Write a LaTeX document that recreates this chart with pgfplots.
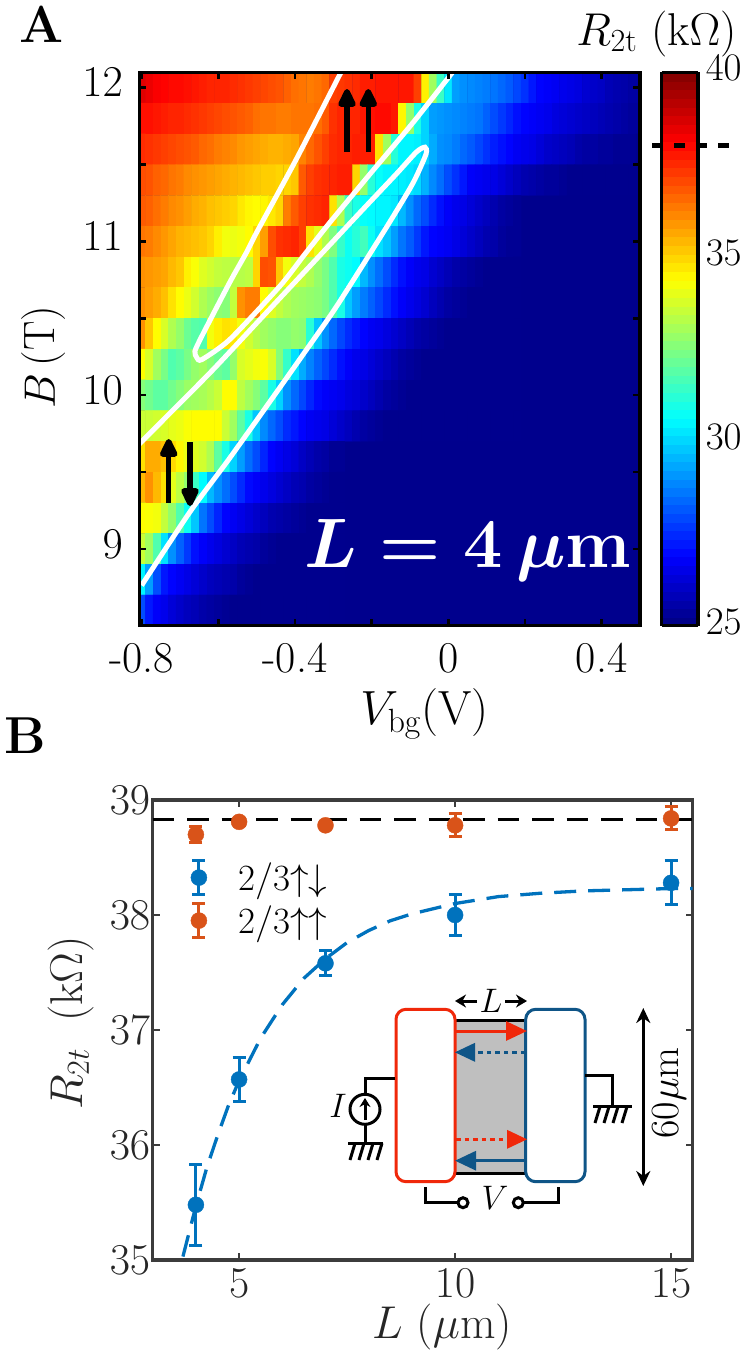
\RequirePackage{fix-cm}
\documentclass[border=0pt]{standalone}
\usepackage{amsmath}
\usepackage{pgfplots}
\usepackage{pgfplotstable}
\pgfplotsset{compat=1.18}
\usetikzlibrary{arrows.meta}

\newcommand{\fstick}{\fontsize{44}{48}\selectfont}
\newcommand{\fsins}{\fontsize{34}{38}\selectfont}
\definecolor{cblue}{RGB}{0,114,189}
\definecolor{corange}{RGB}{217,83,25}
\definecolor{tailblue}{RGB}{0,0,141}
\definecolor{axgray}{RGB}{60,60,60}
\definecolor{txgray}{RGB}{38,38,38}
\definecolor{insred}{RGB}{240,40,10}
\definecolor{insblue}{RGB}{15,85,135}

% R_2t in kOhm, Vbg step 0.02 from -0.8, rows from B=12.0 down in 0.2 steps
% rows 12.0 ... 11.4, 66 columns
\pgfplotstableread[row sep=\\]{R\\
38.6\\38.4\\38.2\\38.1\\38.0\\38.0\\37.9\\37.8\\37.7\\37.6\\37.6\\37.6\\37.5\\37.4\\37.3\\37.2\\37.1\\37.0\\36.9\\36.7\\36.5\\36.4\\36.3\\36.4\\36.6\\37.2\\37.3\\37.4\\37.5\\37.7\\37.7\\37.8\\37.8\\37.8\\37.8\\37.8\\37.2\\34.6\\33.0\\31.5\\30.3\\29.2\\29.0\\28.9\\28.8\\28.7\\28.6\\28.4\\28.2\\27.9\\27.6\\27.2\\26.9\\26.8\\26.7\\26.6\\26.5\\26.4\\26.2\\26.1\\26.0\\25.8\\25.7\\25.6\\25.5\\25.5\\
37.9\\37.9\\37.8\\37.7\\37.6\\37.6\\37.5\\37.4\\37.3\\37.2\\37.1\\37.0\\36.9\\36.8\\36.7\\36.5\\36.4\\36.4\\36.3\\36.3\\36.4\\36.4\\36.4\\36.5\\36.8\\37.4\\37.6\\37.6\\37.6\\37.8\\37.9\\38.0\\38.0\\37.8\\34.5\\32.8\\31.0\\30.0\\29.2\\29.1\\29.0\\28.9\\28.8\\28.7\\28.6\\28.3\\28.0\\27.7\\27.4\\27.1\\26.9\\26.8\\26.7\\26.6\\26.4\\26.3\\26.2\\26.1\\26.0\\25.9\\25.8\\25.7\\25.6\\25.5\\25.4\\25.4\\
37.5\\37.4\\37.3\\37.2\\37.1\\37.0\\36.9\\36.8\\36.6\\36.5\\36.3\\36.2\\36.1\\35.9\\35.8\\35.7\\35.6\\35.5\\35.5\\35.6\\35.7\\36.2\\36.6\\36.9\\37.2\\37.5\\37.6\\37.6\\37.7\\37.7\\37.7\\34.8\\33.0\\31.2\\30.5\\30.5\\30.4\\30.0\\29.4\\29.0\\28.9\\28.7\\28.4\\28.2\\27.9\\27.6\\27.3\\27.1\\26.9\\26.7\\26.6\\26.5\\26.3\\26.1\\26.0\\25.9\\25.8\\25.6\\25.5\\25.5\\25.4\\25.4\\25.3\\25.3\\25.3\\25.2\\
37.0\\36.9\\36.7\\36.6\\36.4\\36.3\\36.1\\36.0\\35.9\\35.8\\35.7\\35.6\\35.5\\35.4\\35.3\\35.2\\35.1\\35.1\\35.0\\35.0\\35.2\\36.8\\37.2\\37.4\\37.5\\37.6\\37.7\\37.7\\35.0\\32.8\\31.2\\30.7\\30.5\\30.5\\30.4\\30.3\\30.1\\29.5\\28.9\\28.5\\28.0\\27.6\\27.2\\26.8\\26.7\\26.6\\26.5\\26.3\\26.1\\25.9\\25.7\\25.6\\25.5\\25.4\\25.4\\25.3\\25.2\\25.2\\25.2\\25.2\\25.2\\25.2\\25.2\\25.2\\25.2\\25.2\\
}\heata
% rows 11.2 ... 9.8, 50 columns
\pgfplotstableread[row sep=\\]{R\\
36.8\\36.7\\36.5\\36.3\\36.1\\36.0\\35.8\\35.6\\35.5\\35.3\\35.2\\35.1\\35.0\\34.7\\34.5\\34.4\\34.5\\34.7\\35.0\\36.3\\36.8\\37.2\\37.4\\37.5\\37.6\\34.8\\33.2\\31.5\\31.0\\30.7\\30.6\\30.5\\30.5\\30.3\\29.6\\29.0\\28.4\\28.0\\27.5\\27.1\\26.8\\26.6\\26.5\\26.3\\26.1\\25.9\\25.7\\25.5\\25.4\\25.3\\
36.4\\36.3\\36.1\\35.9\\35.7\\35.5\\35.4\\35.3\\35.2\\35.0\\34.6\\34.2\\34.1\\34.2\\34.4\\35.0\\35.8\\37.0\\37.4\\37.5\\37.6\\37.2\\34.8\\34.0\\33.2\\32.5\\31.4\\30.8\\31.2\\31.6\\30.8\\30.2\\29.8\\29.2\\28.6\\28.2\\27.7\\27.2\\26.9\\26.8\\26.7\\26.5\\26.3\\26.1\\25.9\\25.7\\25.6\\25.4\\25.3\\25.3\\
36.0\\35.9\\35.8\\35.7\\35.4\\35.2\\34.6\\34.3\\33.9\\33.7\\33.5\\33.4\\33.3\\33.3\\33.4\\35.0\\37.0\\36.9\\35.2\\34.2\\33.8\\33.5\\33.2\\32.8\\32.4\\31.8\\31.0\\30.8\\30.6\\29.6\\29.0\\28.5\\28.0\\27.5\\27.1\\26.8\\26.6\\26.5\\26.2\\26.0\\25.8\\25.6\\25.5\\25.4\\25.3\\25.2\\25.2\\25.2\\25.2\\25.2\\
36.0\\35.8\\35.6\\35.3\\34.8\\34.4\\34.1\\33.7\\33.2\\32.9\\32.7\\32.6\\33.5\\36.0\\36.3\\36.3\\34.4\\33.9\\33.5\\33.2\\33.0\\32.9\\32.8\\32.7\\32.4\\31.8\\31.0\\29.8\\29.2\\28.7\\28.3\\27.9\\27.5\\27.1\\26.8\\26.6\\26.4\\26.2\\25.9\\25.7\\25.5\\25.4\\25.3\\25.2\\25.2\\25.2\\25.2\\25.2\\25.2\\25.2\\
36.0\\35.2\\34.4\\33.8\\33.2\\32.8\\32.2\\31.9\\31.8\\34.2\\34.6\\34.8\\34.7\\34.2\\33.7\\33.3\\33.0\\32.8\\32.6\\32.6\\32.8\\32.7\\31.2\\29.8\\29.0\\28.4\\27.9\\27.5\\27.2\\26.9\\26.7\\26.6\\26.4\\26.2\\26.0\\25.8\\25.6\\25.5\\25.4\\25.3\\25.2\\25.2\\25.2\\25.2\\25.2\\25.2\\25.2\\25.2\\25.2\\25.2\\
34.4\\33.8\\33.0\\32.4\\31.8\\32.0\\32.4\\32.8\\33.0\\32.6\\32.2\\32.0\\32.8\\33.8\\34.0\\34.2\\34.3\\33.8\\32.6\\31.4\\30.2\\29.4\\28.8\\28.3\\27.9\\27.5\\27.1\\26.8\\26.6\\26.5\\26.3\\26.1\\25.9\\25.7\\25.5\\25.4\\25.3\\25.2\\25.2\\25.2\\25.2\\25.2\\25.2\\25.2\\25.2\\25.2\\25.2\\25.2\\25.2\\25.2\\
32.6\\32.3\\32.0\\32.0\\32.3\\32.6\\32.9\\33.0\\33.1\\33.3\\33.6\\34.4\\34.4\\33.4\\33.0\\32.6\\32.0\\31.0\\30.0\\29.0\\28.4\\27.9\\27.4\\27.0\\26.8\\26.7\\26.6\\26.4\\26.3\\26.1\\25.9\\25.7\\25.5\\25.4\\25.3\\25.2\\25.2\\25.2\\25.2\\25.2\\25.2\\25.2\\25.2\\25.2\\25.2\\25.2\\25.2\\25.2\\25.2\\25.2\\
33.6\\33.6\\33.7\\33.8\\34.0\\34.1\\34.3\\34.4\\34.4\\34.4\\34.4\\33.6\\33.0\\32.0\\31.0\\29.8\\28.9\\28.4\\28.0\\27.5\\27.2\\26.9\\26.7\\26.6\\26.5\\26.3\\26.1\\25.9\\25.7\\25.5\\25.4\\25.3\\25.2\\25.2\\25.2\\25.2\\25.2\\25.2\\25.2\\25.2\\25.2\\25.2\\25.2\\25.2\\25.2\\25.2\\25.2\\25.2\\25.2\\25.2\\
}\heatb
% rows 9.6 ... 8.6, 27 columns
\pgfplotstableread[row sep=\\]{R\\
34.8\\35.6\\35.6\\35.3\\34.9\\34.5\\34.1\\33.9\\33.7\\33.2\\32.0\\31.0\\30.0\\29.2\\28.5\\28.0\\27.4\\26.9\\26.7\\26.5\\26.3\\26.0\\25.8\\25.6\\25.5\\25.3\\25.3\\
35.4\\36.0\\35.4\\34.8\\34.0\\33.4\\32.8\\31.5\\30.6\\29.6\\29.0\\28.5\\28.0\\27.5\\27.0\\26.8\\26.6\\26.4\\26.2\\26.0\\25.8\\25.7\\25.5\\25.4\\25.3\\25.2\\25.2\\
34.4\\34.3\\34.2\\33.5\\32.8\\31.8\\30.8\\29.8\\28.6\\28.0\\27.4\\26.9\\26.7\\26.5\\26.3\\26.1\\25.9\\25.7\\25.6\\25.5\\25.4\\25.3\\25.2\\25.2\\25.2\\25.2\\25.2\\
33.6\\33.0\\31.8\\30.2\\29.0\\28.3\\27.7\\27.1\\26.8\\26.6\\26.4\\26.2\\26.0\\25.8\\25.7\\25.6\\25.4\\25.3\\25.2\\25.2\\25.2\\25.2\\25.2\\25.2\\25.2\\25.2\\25.2\\
30.5\\29.2\\28.0\\27.2\\26.9\\26.7\\26.5\\26.3\\26.1\\25.9\\25.8\\25.7\\25.6\\25.4\\25.3\\25.2\\25.2\\25.2\\25.2\\25.2\\25.2\\25.2\\25.2\\25.2\\25.2\\25.2\\25.2\\
28.0\\27.2\\26.8\\26.6\\26.3\\26.1\\25.9\\25.8\\25.6\\25.5\\25.4\\25.3\\25.2\\25.2\\25.2\\25.2\\25.2\\25.2\\25.2\\25.2\\25.2\\25.2\\25.2\\25.2\\25.2\\25.2\\25.2\\
}\heatc

\begin{document}
\begin{tikzpicture}
\path[use as bounding box] (0pt,0pt) rectangle (747pt,-1353pt);

% panel A
\begin{axis}[
  at={(139.3pt,-72.3pt)}, anchor=north west,
  scale only axis, width=500.7pt, height=553.4pt,
  xmin=-0.806, xmax=0.5, ymin=8.5, ymax=12.1,
  axis on top,
  axis background/.style={fill=tailblue},
  axis line style={line width=3.5pt,black},
  tick style={line width=2.5pt,black},
  major tick length=7pt, minor tick length=7pt,
  xtick={-0.8,-0.4,0,0.4}, xticklabels={-0.8,-0.4,0,0.4},
  ytick={9,10,11,12},
  minor x tick num=1, minor y tick num=1,
  tick label style={font=\fstick},
  xticklabel style={anchor=base,yshift=-46.3pt},
  yticklabel style={xshift=-13pt,yshift=5pt},
  xlabel={$V_{\mathrm{bg}}$(V)}, ylabel={$B\,$(T)},
  xlabel style={font=\fontsize{48}{52}\selectfont,at={(axis description cs:0.5696,-0.1794)},anchor=base},
  ylabel style={font=\fontsize{44}{48}\selectfont,at={(axis description cs:-0.1684,0.4855)},anchor=base},
  colormap/jet,
  point meta min=25, point meta max=40,
  colorbar sampled,
  colorbar/width=36.5pt,
  colorbar shift/.style={xshift=20pt},
  colorbar style={
    samples=65,
    ytick={25,30,35,40},
    major tick length=0pt,
    axis line style={line width=3.5pt,black},
    yticklabel style={font=\fontsize{39}{42}\selectfont,xshift=4pt,yshift=4pt},
  },
]
\addplot[matrix plot*, mesh/cols=66, point meta=explicit] table[x index=0, y index=0, meta=R,
  x expr={-0.8+0.02*(\coordindex-66*floor((\coordindex+0.5)/66))},
  y expr={12-0.2*floor((\coordindex+0.5)/66)}] {\heata};
\addplot[matrix plot*, mesh/cols=50, point meta=explicit] table[x index=0, y index=0, meta=R,
  x expr={-0.8+0.02*(\coordindex-50*floor((\coordindex+0.5)/50))},
  y expr={11.2-0.2*floor((\coordindex+0.5)/50)}] {\heatb};
\addplot[matrix plot*, mesh/cols=27, point meta=explicit] table[x index=0, y index=0, meta=R,
  x expr={-0.8+0.02*(\coordindex-27*floor((\coordindex+0.5)/27))},
  y expr={9.6-0.2*floor((\coordindex+0.5)/27)}] {\heatc};
% phase boundaries
\addplot[white, line width=5pt, smooth, tension=0.4] coordinates {
  (0.011,12.10) (-0.091,11.776) (-0.204,11.439) (-0.309,11.123) (-0.378,10.905)
  (-0.439,10.710) (-0.570,10.362) (-0.643,10.231) (-0.656,10.244) (-0.661,10.285)
  (-0.643,10.383) (-0.570,10.734) (-0.526,10.93) (-0.5,11.058) (-0.396,11.537) (-0.28,12.10)
};
\addplot[white, line width=5pt, smooth, tension=0.4] coordinates {
  (-0.813,9.665) (-0.622,10.144) (-0.483,10.514) (-0.309,10.978) (-0.222,11.21)
  (-0.135,11.44) (-0.083,11.582) (-0.061,11.613) (-0.058,11.569) (-0.092,11.38)
  (-0.161,11.093) (-0.291,10.579) (-0.378,10.267) (-0.448,10.019) (-0.570,9.591)
  (-0.674,9.24) (-0.8,8.762)
};
\end{axis}

% panel B
\begin{axis}[
  at={(152.7pt,-800pt)}, anchor=north west,
  scale only axis, width=540pt, height=460pt,
  xmin=3, xmax=15.5, ymin=35, ymax=39,
  axis line style={line width=3.5pt,axgray},
  tick style={line width=2.5pt,axgray},
  major tick length=7pt,
  xtick={5,10,15}, ytick={35,36,37,38,39},
  tick label style={font=\fstick,text=txgray},
  xticklabel style={anchor=base,yshift=-37pt},
  yticklabel style={xshift=1pt},
  xlabel={$L$ ($\mu$m)}, ylabel={$R_{2t}$\hspace{13pt} (k$\Omega$)},
  label style={font=\fontsize{46}{50}\selectfont,text=txgray},
  xlabel style={at={(axis description cs:0.5357,-0.1696)},anchor=base},
  ylabel style={at={(axis description cs:-0.1309,0.515)},anchor=base},
  legend style={at={(axis description cs:0.07,0.872)},anchor=north west,
    draw=none,fill=none,font=\fontsize{37}{40}\selectfont,inner sep=0pt,row sep=6pt,
    column sep=29pt},
  legend cell align=left,
]
\addplot[forget plot, black, line width=3.3pt, dash pattern=on 21.5pt off 13pt]
  coordinates {(3,38.83) (15.5,38.83)};
\addplot[forget plot, cblue, line width=3.3pt, dash pattern=on 22pt off 12pt]
  coordinates {(3.7,35.03) (4,35.47) (4.25,35.8) (4.5,36.08) (4.75,36.34) (5,36.56)
  (5.5,36.93) (6,37.22) (6.5,37.45) (7,37.62) (7.5,37.76) (8,37.865) (8.5,37.95)
  (9,38.01) (10,38.1) (11,38.16) (12,38.19) (13,38.21) (14,38.22) (15,38.23) (15.5,38.23)};
\addplot[only marks, mark=*, mark size=8pt, cblue, mark options={fill=cblue,draw=cblue},
  legend image code/.code={
    \draw[line width=3pt,cblue] (0pt,-17pt)--(0pt,17pt) (-6.5pt,-17pt)--(6.5pt,-17pt) (-6.5pt,17pt)--(6.5pt,17pt);
    \fill[cblue] (0pt,0pt) circle (8pt);},
  error bars/.cd, y dir=both, y explicit,
  error bar style={line width=3pt,cblue},
  error mark options={rotate=90,mark size=6.5pt,line width=3pt,cblue}]
  coordinates {(4,35.48) +- (0,0.35) (5,36.57) +- (0,0.19) (7,37.58) +- (0,0.11)
  (10,38.0) +- (0,0.18) (15,38.28) +- (0,0.19)};
\addlegendentry{$2/3{\uparrow}{\downarrow}$}
\addplot[only marks, mark=*, mark size=8pt, corange, mark options={fill=corange,draw=corange},
  legend image code/.code={
    \draw[line width=3pt,corange] (0pt,-17pt)--(0pt,17pt) (-6.5pt,-17pt)--(6.5pt,-17pt) (-6.5pt,17pt)--(6.5pt,17pt);
    \fill[corange] (0pt,0pt) circle (8pt);},
  error bars/.cd, y dir=both, y explicit,
  error bar style={line width=3pt,corange},
  error mark options={rotate=90,mark size=6.5pt,line width=3pt,corange}]
  coordinates {(4,38.7) +- (0,0.07) (5,38.81) +- (0,0.03) (7,38.78) +- (0,0.03)
  (10,38.78) +- (0,0.1) (15,38.84) +- (0,0.1)};
\addlegendentry{$2/3{\uparrow}{\uparrow}$}
\end{axis}

% annotations, coordinates in reference pixels
\begin{scope}[x=1pt,y=-1pt]
\node[font=\fontsize{52}{56}\selectfont\bfseries,anchor=base] at (42,42) {A};
\node[font=\fontsize{52}{56}\selectfont\bfseries,anchor=base] at (25,753) {B};
\node[font=\fontsize{46}{50}\selectfont,anchor=base] at (656.5,45) {$R_{\mathrm{2t}}$ (k$\Omega$)};
\draw[black,line width=5pt,dash pattern=on 11pt off 11pt] (652,145)--(731,145);
% spin arrows
\draw[line width=5.5pt,-{Triangle[length=22pt,width=19pt,round]}] (347,152)--(347,89);
\draw[line width=5.5pt,-{Triangle[length=22pt,width=19pt,round]}] (368.3,152)--(368.3,89);
\draw[line width=5.5pt,-{Triangle[length=22pt,width=19pt,round]}] (168.7,503)--(168.7,439);
\draw[line width=5.5pt,-{Triangle[length=22pt,width=19pt,round]}] (190,442)--(190,506);
\node[white,font=\fontsize{70}{74}\selectfont,anchor=base] at (468,567.7) {{\boldmath$L = 4\,\mu\mathbf{m}$}};

% device inset
\fill[black!25] (456,1020) rectangle (527,1173);
\draw[black,line width=3pt] (456,1020)--(527,1020) (456,1173)--(527,1173);
\draw[insred,line width=3pt,fill=white,rounded corners=10pt] (396,1009.3) rectangle (455,1181.7);
\draw[insblue,line width=3pt,fill=white,rounded corners=10pt] (525.7,1009.3) rectangle (585,1181.7);
\draw[insred,line width=3pt,-{Triangle[length=21pt,width=19pt]}] (456,1031)--(527,1031);
\draw[insblue,line width=3pt,dash pattern=on 4.5pt off 4pt] (525,1052.3)--(470,1052.3);
\fill[insblue] (455,1052.3)--(475,1042.8)--(475,1061.8)--cycle;
\draw[insred,line width=3pt,dash pattern=on 4.5pt off 4pt] (456,1139.3)--(510,1139.3);
\fill[insred] (527,1139.3)--(507,1129.8)--(507,1148.8)--cycle;
\draw[insblue,line width=3pt,-{Triangle[length=21pt,width=19pt]}] (525,1160.7)--(455,1160.7);
% wires and source
\draw[black,line width=3pt] (395,1078.3)--(365,1078.3)--(365,1094);
\draw[black,line width=3pt] (365,1109.3) circle (15);
\draw[black,line width=3pt,-{Stealth[length=9pt,width=11pt]}] (365,1120)--(365,1098);
\draw[black,line width=3pt] (365,1124.5)--(365,1143.3) (348,1143.3)--(383,1143.3);
\foreach \h in {355,364,373,382}
  \draw[black,line width=3pt] (\h,1143.3)--(\h-5,1160);
\draw[black,line width=3pt] (585,1075.7)--(612.7,1075.7)--(612.7,1106.7) (593,1106.7)--(632,1106.7);
\foreach \h in {600,609,618,627}
  \draw[black,line width=3pt] (\h,1106.7)--(\h-5,1123);
\draw[black,line width=3pt] (425,1187)--(425,1202.7)--(458,1202.7);
\draw[black,line width=3pt] (463,1202.7) circle (5);
\draw[black,line width=3pt] (558.3,1187)--(558.3,1202.7)--(523.3,1202.7);
\draw[black,line width=3pt] (518.3,1202.7) circle (5);
\node[font=\fsins] at (495,1198) {$V$};
\node[font=\fsins] at (338,1106) {$I$};
% length arrows
\node[font=\fsins] at (491,1001) {$L$};
\draw[black,line width=3pt,-{Stealth[length=11pt,width=13pt]}] (477,1001)--(455,1001);
\draw[black,line width=3pt,-{Stealth[length=11pt,width=13pt]}] (505,1001)--(527,1001);
\draw[black,line width=3pt,{Stealth[length=15pt,width=14pt]}-{Stealth[length=15pt,width=14pt]}] (643.3,1008)--(643.3,1186);
\node[font=\fontsize{40}{44}\selectfont,rotate=90,anchor=base] at (678,1093) {60$\mu$m};
\end{scope}
\end{tikzpicture}
\end{document}
